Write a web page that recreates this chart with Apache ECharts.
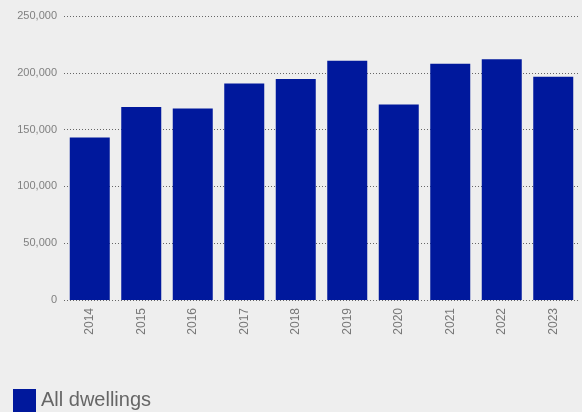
<!DOCTYPE html>
<html>
<head>
<meta charset="utf-8">
<script src="https://cdn.jsdelivr.net/npm/echarts@6/dist/echarts.min.js"></script>
<style>
  html, body { margin: 0; padding: 0; background: #eeeeee; }
  #chart { width: 582px; height: 412px; }
</style>
</head>
<body>
<div id="chart"></div>
<script>
// 年份
const years = ['2014', '2015', '2016', '2017', '2018', '2019', '2020', '2021', '2022', '2023'];
// All dwellings
const dwellings = [143000, 170000, 168500, 190500, 194500, 210500, 172000, 208000, 212000, 196500];
const yTicks = [0, 50000, 100000, 150000, 200000, 250000];

const chart = echarts.init(document.getElementById('chart'));

const option = {
  backgroundColor: '#eeeeee',
  animation: false,
  textStyle: { fontFamily: 'Liberation Sans, Arial, sans-serif' },
  grid: {
    left: 64,
    right: 3,
    top: 16,
    bottom: 112
  },
  legend: {
    left: 8,
    top: 384,
    icon: 'rect',
    itemWidth: 23,
    itemHeight: 23,
    textStyle: { color: '#666', fontSize: 20, padding: [3, 0, 0, 0] },
    data: ['All dwellings']
  },
  xAxis: {
    type: 'category',
    data: years,
    axisLine: { show: false },
    axisTick: { show: false },
    axisLabel: {
      rotate: 90,
      color: '#777',
      fontSize: 12,
      margin: 8
    }
  },
  yAxis: {
    type: 'value',
    min: yTicks[0],
    max: yTicks[yTicks.length - 1],
    interval: 50000,
    axisLine: { show: false },
    axisTick: { show: false },
    axisLabel: {
      color: '#808080',
      fontSize: 11,
      margin: 7,
      formatter: v => v.toLocaleString('en-US')
    },
    splitLine: {
      lineStyle: { color: '#666', type: [1, 2], width: 1 }
    }
  },
  series: [
    {
      name: 'All dwellings',
      type: 'bar',
      data: dwellings,
      barWidth: 40,
      itemStyle: { color: '#00189C' }
    }
  ]
};

chart.setOption(option);
</script>
</body>
</html>
